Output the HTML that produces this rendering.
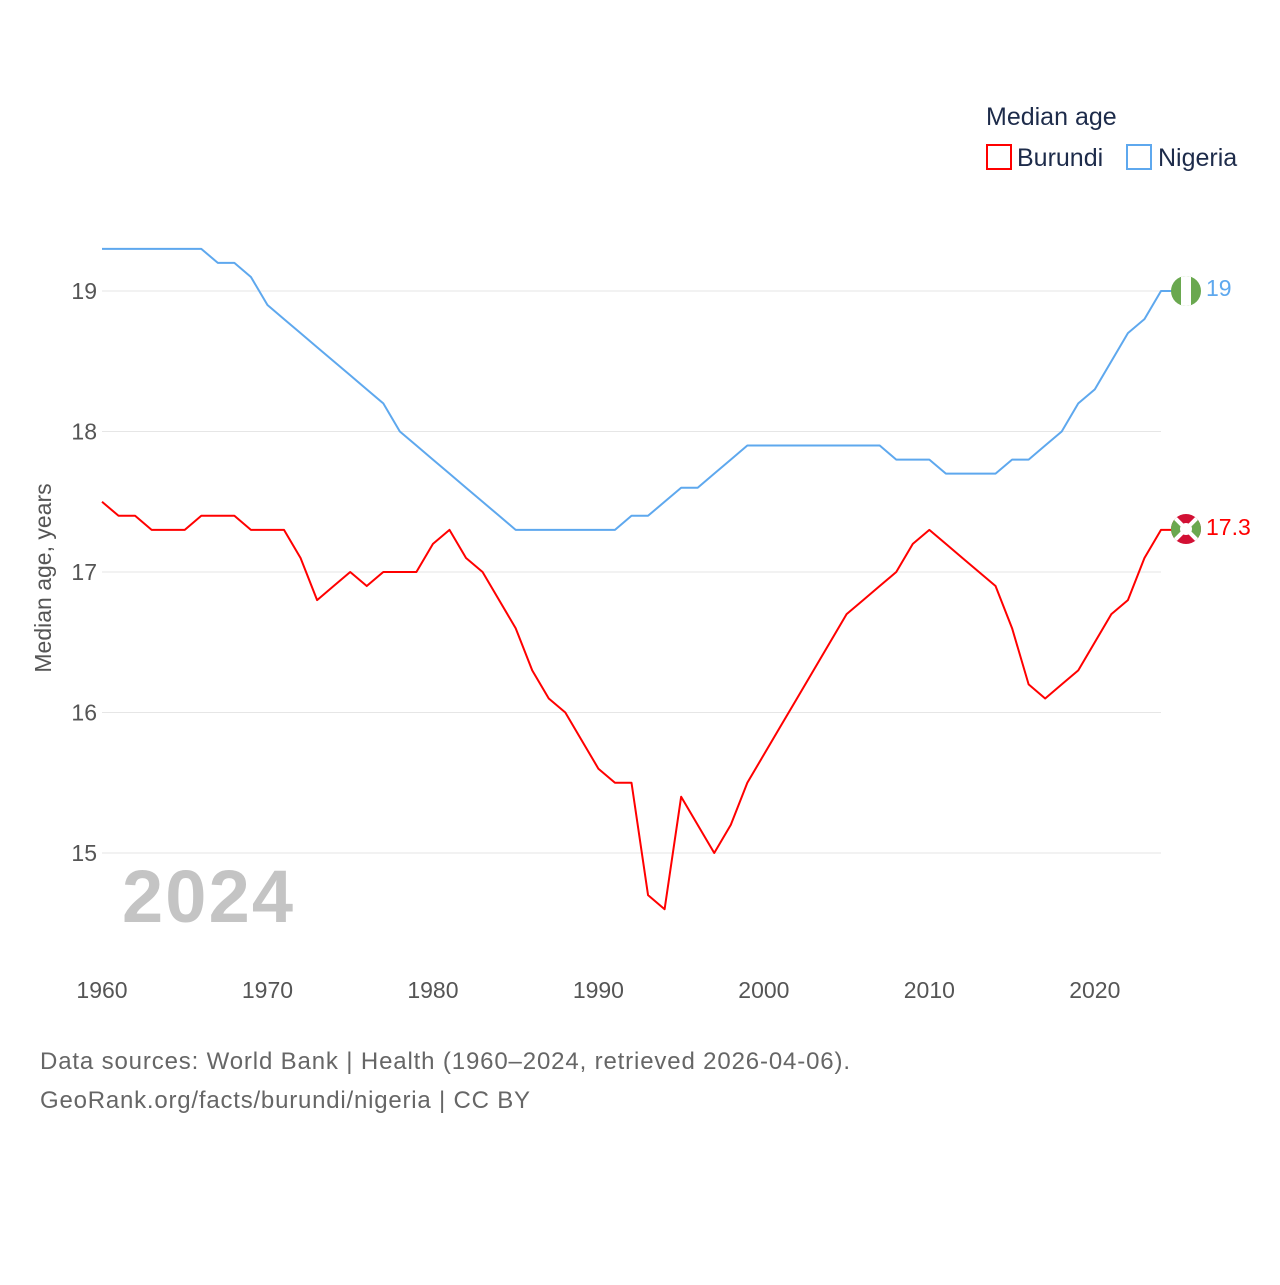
<!DOCTYPE html>
<html><head><meta charset="utf-8"><style>
body{margin:0;background:#fff;font-family:"Liberation Sans",sans-serif}
svg text{font-family:"Liberation Sans",sans-serif}
</style></head><body>
<svg width="1280" height="1280" viewBox="0 0 1280 1280">
<g id="grid"></g>
<g id="yt"></g>
<g id="xt"></g>
<text transform="translate(51,578) rotate(-90)" text-anchor="middle" font-size="23" fill="#555">Median age, years</text>
<text x="122" y="922" font-size="74" font-weight="bold" fill="#c4c4c4" textLength="171">2024</text>
<g id="lines"></g>
<g>
<text x="986" y="125" font-size="25" fill="#1d2b4a">Median age</text>
<rect x="987" y="145" width="24" height="24" fill="none" stroke="#f00" stroke-width="2"/>
<text x="1017" y="166" font-size="25" fill="#1d2b4a">Burundi</text>
<rect x="1127" y="145" width="24" height="24" fill="none" stroke="#5ea8ee" stroke-width="2"/>
<text x="1158" y="166" font-size="25" fill="#1d2b4a">Nigeria</text>
</g>
<g>
<clipPath id="cn"><circle cx="1186" cy="291" r="15"/></clipPath>
<g clip-path="url(#cn)"><rect x="1171" y="276" width="30" height="30" fill="#6aa84f"/><rect x="1181" y="276" width="10" height="30" fill="#fff"/></g>
</g>
<g>
<clipPath id="cb"><circle cx="1186" cy="529" r="15"/></clipPath>
<g clip-path="url(#cb)"><rect x="1171" y="514" width="30" height="30" fill="#d21034"/>
<polygon points="1171,514 1186,529 1171,544" fill="#6aa84f"/><polygon points="1201,514 1186,529 1201,544" fill="#6aa84f"/>
<line x1="1171" y1="514" x2="1201" y2="544" stroke="#fff" stroke-width="4"/><line x1="1201" y1="514" x2="1171" y2="544" stroke="#fff" stroke-width="4"/>
<circle cx="1186" cy="529" r="6" fill="#fff"/></g>
</g>
<text x="1206" y="296" font-size="23" fill="#5ea8ee">19</text>
<text x="1206" y="535" font-size="23" fill="#f00">17.3</text>
<text x="40" y="1069" font-size="24" fill="#666" textLength="810">Data sources: World Bank | Health (1960–2024, retrieved 2026-04-06).</text>
<text x="40" y="1108" font-size="24" fill="#666" textLength="490">GeoRank.org/facts/burundi/nigeria | CC BY</text>
</svg>
<script>
const years=[];for(let y=1960;y<=2024;y++)years.push(y);
const nigeria=[19.3,19.3,19.3,19.3,19.3,19.3,19.3,19.2,19.2,19.1,18.9,18.8,18.7,18.6,18.5,18.4,18.3,18.2,18.0,17.9,17.8,17.7,17.6,17.5,17.4,17.3,17.3,17.3,17.3,17.3,17.3,17.3,17.4,17.4,17.5,17.6,17.6,17.7,17.8,17.9,17.9,17.9,17.9,17.9,17.9,17.9,17.9,17.9,17.8,17.8,17.8,17.7,17.7,17.7,17.7,17.8,17.8,17.9,18.0,18.2,18.3,18.5,18.7,18.8,19.0];
const burundi=[17.5,17.4,17.4,17.3,17.3,17.3,17.4,17.4,17.4,17.3,17.3,17.3,17.1,16.8,16.9,17.0,16.9,17.0,17.0,17.0,17.2,17.3,17.1,17.0,16.8,16.6,16.3,16.1,16.0,15.8,15.6,15.5,15.5,14.7,14.6,15.4,15.2,15.0,15.2,15.5,15.7,15.9,16.1,16.3,16.5,16.7,16.8,16.9,17.0,17.2,17.3,17.2,17.1,17.0,16.9,16.6,16.2,16.1,16.2,16.3,16.5,16.7,16.8,17.1,17.3];
const yTicks=[15,16,17,18,19];
const xTicks=[1960,1970,1980,1990,2000,2010,2020];
const X=v=>102+(v-1960)*(1161-102)/64;
const Y=v=>291+(19-v)*140.5;
const NS="http://www.w3.org/2000/svg";
function mk(tag,attrs,parent,txt){const e=document.createElementNS(NS,tag);for(const k in attrs)e.setAttribute(k,attrs[k]);if(txt!=null)e.textContent=txt;document.getElementById(parent).appendChild(e);return e;}
yTicks.forEach(t=>{
 const l=mk('line',{x1:102,x2:1161,y1:Y(t),y2:Y(t),stroke:'#e6e6e6','stroke-width':1},'grid');
 
 
 const tx=mk('text',{x:97,y:Y(t)+8,'text-anchor':'end','font-size':23,fill:'#555'},'yt',t);
 
 
});
xTicks.forEach(t=>{
 const tx=mk('text',{x:X(t),y:998,'text-anchor':'middle','font-size':23,fill:'#555'},'xt',t);
 
 
});
function line(data,color,name){
 const pts=data.map((v,i)=>X(years[i])+','+Y(v));
 pts.push('1172,'+Y(data[data.length-1]));
 const p=mk('polyline',{points:pts.join(' '),fill:'none',stroke:color,'stroke-width':2,'stroke-linejoin':'round'},'lines');
 
 
}
line(nigeria,'#5ea8ee','nigeria-line');
line(burundi,'#f00','burundi-line');
</script>
</body></html>
